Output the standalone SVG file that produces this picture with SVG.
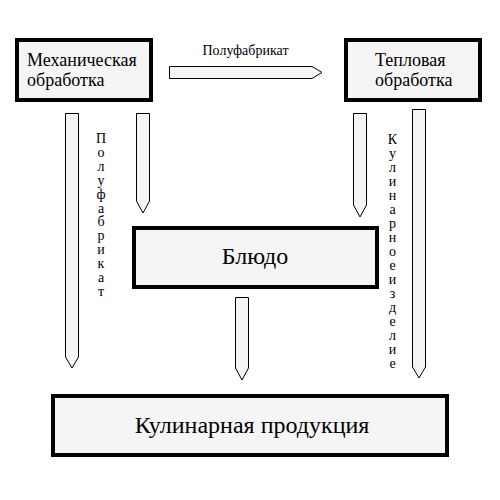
<svg xmlns="http://www.w3.org/2000/svg" width="500" height="500" viewBox="0 0 500 500">
<style>
.box{fill:#f5f5f5;stroke:#000;stroke-width:4}
.arr{fill:#f5f5f5;stroke:#000;stroke-width:1}
</style>
<rect width="500" height="500" fill="#fff"/>
<g id="connectors">
<polygon class="arr" points="169.5,66.5 312,66.5 322,72.5 312,78.5 169.5,78.5"/>
<polygon class="arr" points="65.5,113.5 78.5,113.5 78.5,357 72,368 65.5,357"/>
<polygon class="arr" points="136.5,113.5 149.5,113.5 149.5,201 143,213 136.5,201"/>
<polygon class="arr" points="353.5,113.5 366.5,113.5 366.5,205 360,217 353.5,205"/>
<polygon class="arr" points="412.5,109.5 425.5,109.5 425.5,367 419,378 412.5,367"/>
<polygon class="arr" points="235.5,297.5 248.5,297.5 248.5,368 242,380 235.5,368"/>
<text font-family="Liberation Serif" font-size="14" x="245.5" y="55" text-anchor="middle">Полуфабрикат</text>
<text font-family="Liberation Serif" font-size="14" text-anchor="middle"><tspan x="101" y="143">П</tspan><tspan x="101" dy="13.9">о</tspan><tspan x="101" dy="13.9">л</tspan><tspan x="101" dy="13.9">у</tspan><tspan x="101" dy="13.9">ф</tspan><tspan x="101" dy="13.9">а</tspan><tspan x="101" dy="13.9">б</tspan><tspan x="101" dy="13.9">р</tspan><tspan x="101" dy="13.9">и</tspan><tspan x="101" dy="13.9">к</tspan><tspan x="101" dy="13.9">а</tspan><tspan x="101" dy="13.9">т</tspan></text>
<text font-family="Liberation Serif" font-size="14" text-anchor="middle"><tspan x="392.5" y="144">К</tspan><tspan x="392.5" dy="14">у</tspan><tspan x="392.5" dy="14">л</tspan><tspan x="392.5" dy="14">и</tspan><tspan x="392.5" dy="14">н</tspan><tspan x="392.5" dy="14">а</tspan><tspan x="392.5" dy="14">р</tspan><tspan x="392.5" dy="14">н</tspan><tspan x="392.5" dy="14">о</tspan><tspan x="392.5" dy="14">е</tspan><tspan x="392.5" dy="14">и</tspan><tspan x="392.5" dy="14">з</tspan><tspan x="392.5" dy="14">д</tspan><tspan x="392.5" dy="14">е</tspan><tspan x="392.5" dy="14">л</tspan><tspan x="392.5" dy="14">и</tspan><tspan x="392.5" dy="14">е</tspan></text>
</g>
<g id="mech">
<rect class="box" x="17" y="40" width="134" height="60"/>
<text font-family="Liberation Serif" font-size="18" x="27" y="66">Механическая</text>
<text font-family="Liberation Serif" font-size="18" x="27" y="86">обработка</text>
</g>
<g id="heat">
<rect class="box" x="346" y="40" width="134" height="60"/>
<text font-family="Liberation Serif" font-size="18" x="375" y="66">Тепловая</text>
<text font-family="Liberation Serif" font-size="18" x="375" y="86">обработка</text>
</g>
<g id="dish">
<rect class="box" x="134" y="228" width="243" height="59"/>
<text font-family="Liberation Serif" font-size="24" x="255" y="264" text-anchor="middle">Блюдо</text>
</g>
<g id="product">
<rect class="box" x="53" y="396" width="394" height="59"/>
<text font-family="Liberation Serif" font-size="24" x="252" y="433" text-anchor="middle">Кулинарная продукция</text>
</g>
</svg>
